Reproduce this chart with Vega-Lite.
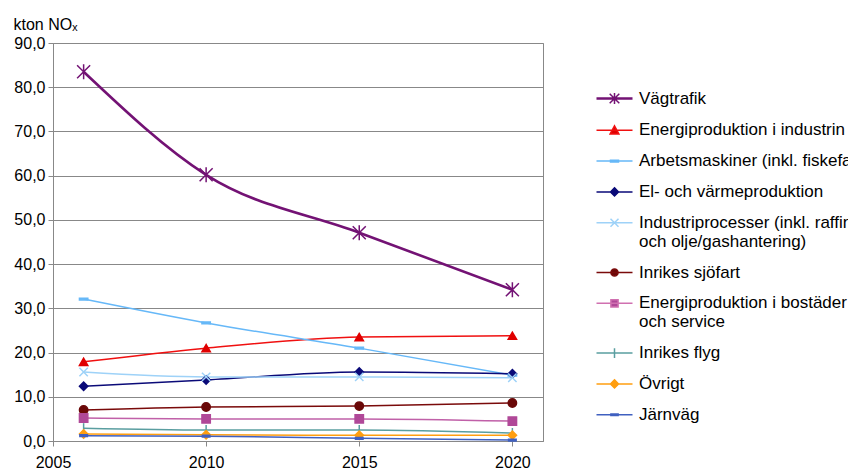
{
  "$schema": "https://vega.github.io/schema/vega-lite/v6.json",
  "width": 490,
  "height": 398,
  "autosize": "none",
  "padding": {"left": 53, "top": 43, "right": 305, "bottom": 31},
  "background": "white",
  "config": {
    "font": "Liberation Sans",
    "view": {"stroke": "#888888", "strokeWidth": 1},
    "axis": {"labelFont": "Liberation Sans", "labelFontSize": 16, "labelColor": "#000000", "titleFont": "Liberation Sans"}
  },
  "data": {
    "values": [
      {"series": "Vägtrafik", "year": 2006, "value": 83.5},
      {"series": "Vägtrafik", "year": 2010, "value": 60.2},
      {"series": "Vägtrafik", "year": 2015, "value": 47.1},
      {"series": "Vägtrafik", "year": 2020, "value": 34.2},
      {"series": "Energiproduktion i industrin", "year": 2006, "value": 17.9},
      {"series": "Energiproduktion i industrin", "year": 2010, "value": 21.0},
      {"series": "Energiproduktion i industrin", "year": 2015, "value": 23.5},
      {"series": "Energiproduktion i industrin", "year": 2020, "value": 23.8},
      {"series": "Arbetsmaskiner (inkl. fiskefartyg)", "year": 2006, "value": 32.1},
      {"series": "Arbetsmaskiner (inkl. fiskefartyg)", "year": 2010, "value": 26.7},
      {"series": "Arbetsmaskiner (inkl. fiskefartyg)", "year": 2015, "value": 21.0},
      {"series": "Arbetsmaskiner (inkl. fiskefartyg)", "year": 2020, "value": 14.9},
      {"series": "El- och värmeproduktion", "year": 2006, "value": 12.4},
      {"series": "El- och värmeproduktion", "year": 2010, "value": 13.8},
      {"series": "El- och värmeproduktion", "year": 2015, "value": 15.6},
      {"series": "El- och värmeproduktion", "year": 2020, "value": 15.2},
      {"series": "Industriprocesser (inkl. raffinaderier och olje/gashantering)", "year": 2006, "value": 15.6},
      {"series": "Industriprocesser (inkl. raffinaderier och olje/gashantering)", "year": 2010, "value": 14.5},
      {"series": "Industriprocesser (inkl. raffinaderier och olje/gashantering)", "year": 2015, "value": 14.5},
      {"series": "Industriprocesser (inkl. raffinaderier och olje/gashantering)", "year": 2020, "value": 14.3},
      {"series": "Inrikes sjöfart", "year": 2006, "value": 7.0},
      {"series": "Inrikes sjöfart", "year": 2010, "value": 7.7},
      {"series": "Inrikes sjöfart", "year": 2015, "value": 7.9},
      {"series": "Inrikes sjöfart", "year": 2020, "value": 8.6},
      {"series": "Energiproduktion i bostäder och service", "year": 2006, "value": 5.2},
      {"series": "Energiproduktion i bostäder och service", "year": 2010, "value": 5.0},
      {"series": "Energiproduktion i bostäder och service", "year": 2015, "value": 5.0},
      {"series": "Energiproduktion i bostäder och service", "year": 2020, "value": 4.5},
      {"series": "Inrikes flyg", "year": 2006, "value": 2.9},
      {"series": "Inrikes flyg", "year": 2010, "value": 2.5},
      {"series": "Inrikes flyg", "year": 2015, "value": 2.5},
      {"series": "Inrikes flyg", "year": 2020, "value": 1.8},
      {"series": "Övrigt", "year": 2006, "value": 1.6},
      {"series": "Övrigt", "year": 2010, "value": 1.4},
      {"series": "Övrigt", "year": 2015, "value": 1.3},
      {"series": "Övrigt", "year": 2020, "value": 1.3},
      {"series": "Järnväg", "year": 2006, "value": 1.2},
      {"series": "Järnväg", "year": 2010, "value": 1.1},
      {"series": "Järnväg", "year": 2015, "value": 0.6},
      {"series": "Järnväg", "year": 2020, "value": 0.2}
    ]
  },
  "encoding": {
    "x": {
      "field": "year", "type": "quantitative",
      "scale": {"domain": [2005, 2021], "nice": false, "zero": false},
      "axis": {"values": [2005, 2010, 2015, 2020], "format": "d", "grid": false, "title": null, "domainColor": "#888888", "tickColor": "#888888", "tickSize": 5, "labelPadding": 8, "labelFlush": false}
    },
    "y": {
      "field": "value", "type": "quantitative",
      "scale": {"domain": [0, 90], "nice": false},
      "axis": {
        "values": [0, 10, 20, 30, 40, 50, 60, 70, 80, 90],
        "labelExpr": "replace(format(datum.value, '.1f'), '.', ',')",
        "grid": true, "gridColor": "#888888", "gridWidth": 1,
        "domainColor": "#888888", "tickColor": "#888888", "tickSize": 5, "labelPadding": 3,
        "title": "kton NOₓ", "titleAngle": 0, "titleAlign": "left", "titleBaseline": "bottom",
        "titleX": -40, "titleY": -11, "titleFontSize": 16, "titleFontWeight": "normal", "titleColor": "#000000"
      }
    }
  },
  "layer": [
    {
      "mark": {"type": "line", "interpolate": "monotone"},
      "encoding": {
        "color": {
          "field": "series", "type": "nominal", "legend": null,
          "scale": {
            "domain": ["Vägtrafik", "Energiproduktion i industrin", "Arbetsmaskiner (inkl. fiskefartyg)", "El- och värmeproduktion", "Industriprocesser (inkl. raffinaderier och olje/gashantering)", "Inrikes sjöfart", "Energiproduktion i bostäder och service", "Inrikes flyg", "Övrigt", "Järnväg"],
            "range": ["#731274", "#F01010", "#66B8F8", "#0A0A78", "#9ED2F8", "#7A0A0A", "#C060A8", "#5A9EA0", "#FF9E10", "#4060C0"]
          }
        },
        "strokeWidth": {"condition": {"test": "datum.series === 'Vägtrafik'", "value": 2.6}, "value": 1.5}
      }
    },
    {
      "mark": {"type": "point", "filled": true, "opacity": 1, "strokeWidth": 1.5},
      "encoding": {
        "fill": {
          "field": "series", "type": "nominal", "legend": null,
          "scale": {
            "domain": ["Vägtrafik", "Energiproduktion i industrin", "Arbetsmaskiner (inkl. fiskefartyg)", "El- och värmeproduktion", "Industriprocesser (inkl. raffinaderier och olje/gashantering)", "Inrikes sjöfart", "Energiproduktion i bostäder och service", "Inrikes flyg", "Övrigt", "Järnväg"],
            "range": ["#731274", "#E00000", "#66B8F8", "#0A0A78", "#9ED2F8", "#6A0808", "#B04898", "#5A9EA0", "#FF9E10", "#4060C0"]
          }
        },
        "stroke": {
          "field": "series", "type": "nominal", "legend": null,
          "scale": {
            "domain": ["Vägtrafik", "Energiproduktion i industrin", "Arbetsmaskiner (inkl. fiskefartyg)", "El- och värmeproduktion", "Industriprocesser (inkl. raffinaderier och olje/gashantering)", "Inrikes sjöfart", "Energiproduktion i bostäder och service", "Inrikes flyg", "Övrigt", "Järnväg"],
            "range": ["#731274", "#E00000", "#66B8F8", "#0A0A78", "#9ED2F8", "#6A0808", "#B04898", "#5A9EA0", "#FF9E10", "#4060C0"]
          }
        },
        "shape": {
          "field": "series", "type": "nominal", "legend": null,
          "scale": {
            "domain": ["Vägtrafik", "Energiproduktion i industrin", "Arbetsmaskiner (inkl. fiskefartyg)", "El- och värmeproduktion", "Industriprocesser (inkl. raffinaderier och olje/gashantering)", "Inrikes sjöfart", "Energiproduktion i bostäder och service", "Inrikes flyg", "Övrigt", "Järnväg"],
            "range": ["M-1,-1L1,1M-1,1L1,-1M0,-1.15L0,1.15", "triangle-up", "M-1,0.2L1,0.2L1,-0.2L-1,-0.2Z", "diamond", "M-1,-1L1,1M-1,1L1,-1", "circle", "square", "M0,-1.2L0,1.2", "diamond", "M-0.9,0.2L0.9,0.2L0.9,-0.2L-0.9,-0.2Z"]
          }
        },
        "size": {"condition": {"test": "datum.series === 'Vägtrafik'", "value": 170}, "value": 70}
      }
    },
    {
      "mark": {"type": "point", "filled": true, "opacity": 0, "strokeWidth": 1.5},
      "encoding": {
        "fill": {
          "field": "series", "type": "nominal",
          "scale": {
            "domain": ["Vägtrafik", "Energiproduktion i industrin", "Arbetsmaskiner (inkl. fiskefartyg)", "El- och värmeproduktion", "Industriprocesser (inkl. raffinaderier och olje/gashantering)", "Inrikes sjöfart", "Energiproduktion i bostäder och service", "Inrikes flyg", "Övrigt", "Järnväg"],
            "range": ["#731274", "#E00000", "#66B8F8", "#0A0A78", "#9ED2F8", "#6A0808", "#B04898", "#5A9EA0", "#FF9E10", "#4060C0"]
          },
          "legend": {
            "orient": "none", "legendX": 553, "legendY": 47,
            "title": null, "symbolSize": 64, "symbolOpacity": 1, "symbolStrokeWidth": 1.5, "labelFontSize": 17, "labelFont": "Liberation Sans", "labelColor": "#000000",
            "labelLimit": 0, "labelOffset": 16, "rowPadding": 12.8, "labelBaseline": "middle",
            "labelExpr": "datum.label === 'Industriprocesser (inkl. raffinaderier och olje/gashantering)' ? ['Industriprocesser (inkl. raffinaderier', 'och olje/gashantering)'] : datum.label === 'Energiproduktion i bostäder och service' ? ['Energiproduktion i bostäder', 'och service'] : datum.label"
          }
        },
        "stroke": {
          "field": "series", "type": "nominal",
          "scale": {
            "domain": ["Vägtrafik", "Energiproduktion i industrin", "Arbetsmaskiner (inkl. fiskefartyg)", "El- och värmeproduktion", "Industriprocesser (inkl. raffinaderier och olje/gashantering)", "Inrikes sjöfart", "Energiproduktion i bostäder och service", "Inrikes flyg", "Övrigt", "Järnväg"],
            "range": ["#731274", "#F01010", "#66B8F8", "#0A0A78", "#9ED2F8", "#7A0A0A", "#D070B0", "#5A9EA0", "#FF9E10", "#4060C0"]
          },
          "legend": {
            "orient": "none", "legendX": 553, "legendY": 47,
            "title": null, "symbolSize": 64, "symbolOpacity": 1, "symbolStrokeWidth": 1.5, "labelFontSize": 17, "labelFont": "Liberation Sans", "labelColor": "#000000",
            "labelLimit": 0, "labelOffset": 16, "rowPadding": 12.8, "labelBaseline": "middle",
            "labelExpr": "datum.label === 'Industriprocesser (inkl. raffinaderier och olje/gashantering)' ? ['Industriprocesser (inkl. raffinaderier', 'och olje/gashantering)'] : datum.label === 'Energiproduktion i bostäder och service' ? ['Energiproduktion i bostäder', 'och service'] : datum.label"
          }
        },
        "shape": {
          "field": "series", "type": "nominal",
          "scale": {
            "domain": ["Vägtrafik", "Energiproduktion i industrin", "Arbetsmaskiner (inkl. fiskefartyg)", "El- och värmeproduktion", "Industriprocesser (inkl. raffinaderier och olje/gashantering)", "Inrikes sjöfart", "Energiproduktion i bostäder och service", "Inrikes flyg", "Övrigt", "Järnväg"],
            "range": [
              "M-4.5,-0.15L4.5,-0.15M-4.5,0.15L4.5,0.15M-1.2,-1.2L1.2,1.2M-1.2,1.2L1.2,-1.2M0,-1.4L0,1.4",
              "M-4.5,0L4.5,0M0,-1.1L1.1,0.9L-1.1,0.9Z",
              "M-4.5,0L4.5,0M-1,0.2L1,0.2L1,-0.2L-1,-0.2Z",
              "M-4.5,0L4.5,0M0,-1L1,0L0,1L-1,0Z",
              "M-4.5,0L4.5,0M-1,-1L1,1M-1,1L1,-1",
              "M-4.5,0L4.5,0M0.9,0A0.9,0.9,0,1,1,-0.9,0A0.9,0.9,0,1,1,0.9,0Z",
              "M-4.5,0L4.5,0M-0.9,-0.9L0.9,-0.9L0.9,0.9L-0.9,0.9Z",
              "M-4.5,0L4.5,0M0,-1.2L0,1.2",
              "M-4.5,0L4.5,0M0,-1L1,0L0,1L-1,0Z",
              "M-4.5,0L4.5,0M-0.9,0.2L0.9,0.2L0.9,-0.2L-0.9,-0.2Z"
            ]
          },
          "legend": {
            "orient": "none", "legendX": 553, "legendY": 47,
            "title": null, "symbolSize": 64, "symbolOpacity": 1, "symbolStrokeWidth": 1.5, "labelFontSize": 17, "labelFont": "Liberation Sans", "labelColor": "#000000",
            "labelLimit": 0, "labelOffset": 16, "rowPadding": 12.8, "labelBaseline": "middle",
            "labelExpr": "datum.label === 'Industriprocesser (inkl. raffinaderier och olje/gashantering)' ? ['Industriprocesser (inkl. raffinaderier', 'och olje/gashantering)'] : datum.label === 'Energiproduktion i bostäder och service' ? ['Energiproduktion i bostäder', 'och service'] : datum.label"
          }
        }
      }
    }
  ],
  "resolve": {"scale": {"shape": "independent", "fill": "independent", "stroke": "independent"}}
}
